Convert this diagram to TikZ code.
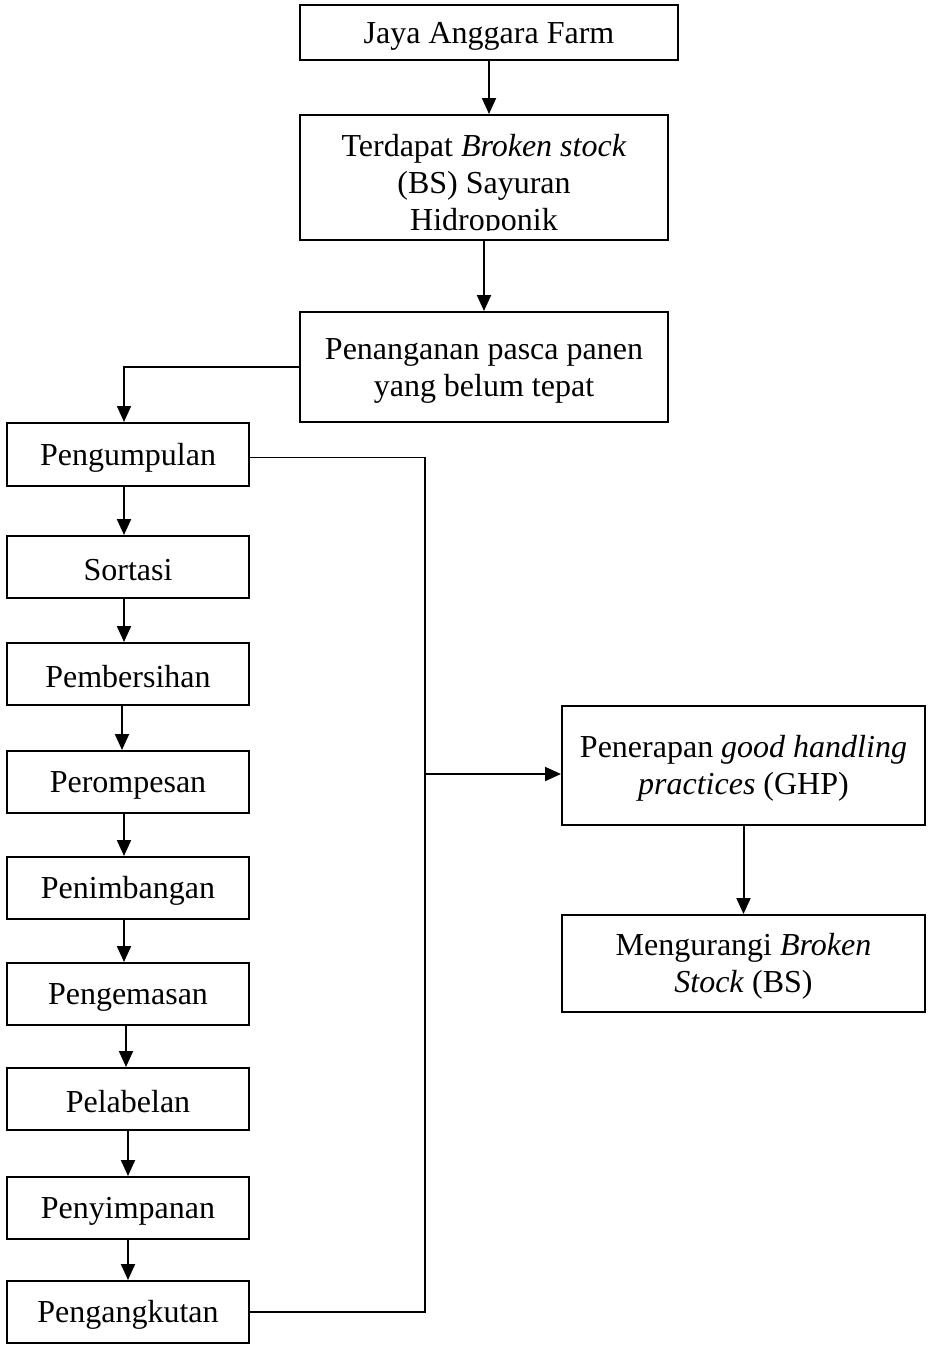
\documentclass[tikz,border=0pt]{standalone}
\usepackage{fontspec}
\setmainfont{Liberation Serif}
\usetikzlibrary{arrows.meta}
\newcommand\mystrut{\rule{0pt}{14pt}}
\begin{document}
\begin{tikzpicture}[x=0.5pt,y=-0.5pt,
  box/.style={draw,line width=1pt,inner sep=0pt,align=center,font=\fontsize{16}{18.5}\selectfont},
  lbox/.style={box,minimum width=121pt,minimum height=31pt},
  txt/.style={inner sep=0pt,align=center,font=\fontsize{16}{18.5}\selectfont},
  arr/.style={line width=1pt,-{Triangle[length=8pt,width=7pt]}},
  ln/.style={line width=0.6pt}]
\useasboundingbox (0,0) rectangle (932,1346);
% top chain
\node[box,minimum width=189pt,minimum height=27.5pt] (jaya) at (489,32.5) {\mystrut Jaya Anggara Farm};
\node[box,minimum width=184pt,minimum height=62.5pt] (bs) at (484,177.5) {};
\begin{scope}
  \clip (302,117) rectangle (666,230);
  \node[txt] (bstext) at (484,183) {\mystrut Terdapat \textit{Broken stock}\\(BS) Sayuran\\Hidroponik};
\end{scope}
\node[box,minimum width=184pt,minimum height=55pt] (pen) at (484,367) {\mystrut Penanganan pasca panen\\yang belum tepat};
% left column
\node[lbox,minimum height=31.5pt] (peng) at (128,454.5) {\mystrut Pengumpulan};
\node[lbox] (sort) at (128,567) {\mystrut Sortasi};
\node[lbox] (bers) at (128,674) {\mystrut Pembersihan};
\node[lbox] (romp) at (128,782) {\mystrut Perompesan};
\node[lbox] (timb) at (128,888) {\mystrut Penimbangan};
\node[lbox] (emas) at (128,994) {\mystrut Pengemasan};
\node[lbox] (label) at (128,1099) {\mystrut Pelabelan};
\node[lbox] (simpan) at (128,1208) {\mystrut Penyimpanan};
\node[lbox] (angkut) at (128,1312) {\mystrut Pengangkutan};
% right column
\node[box,minimum width=181.5pt,minimum height=59.5pt] (ghp) at (743.5,765.5) {\mystrut Penerapan \textit{good handling}\\\textit{practices} (GHP)};
\node[box,minimum width=181.5pt,minimum height=48.5pt] (kurang) at (743.5,963.5) {\mystrut Mengurangi \textit{Broken}\\\textit{Stock} (BS)};
% connectors
\draw[arr] (jaya) -- (jaya |- bs.north);
\draw[arr] (bs) -- (pen);
\draw[arr,line width=0.8pt] (pen.west) -| ([xshift=-2pt]peng.north);
\draw[arr] ([xshift=-2pt]peng.south) -- ([xshift=-2pt]sort.north);
\draw[arr] ([xshift=-2pt]sort.south) -- ([xshift=-2pt]bers.north);
\draw[arr] ([xshift=-3pt]bers.south) -- ([xshift=-3pt]romp.north);
\draw[arr] ([xshift=-2pt]romp.south) -- ([xshift=-2pt]timb.north);
\draw[arr] ([xshift=-2pt]timb.south) -- ([xshift=-2pt]emas.north);
\draw[arr] ([xshift=-1pt]emas.south) -- ([xshift=-1pt]label.north);
\draw[arr] (label.south) -- (simpan.north);
\draw[arr] (simpan.south) -- (angkut.north);
\coordinate (jn) at (425,774);
\draw[ln] ([yshift=-1.5pt]peng.east) -| (jn);
\draw[ln] (angkut.east) -| (jn);
\draw[arr] (jn) -- (jn -| ghp.west);
\draw[arr] (ghp) -- (kurang);
\end{tikzpicture}
\end{document}
